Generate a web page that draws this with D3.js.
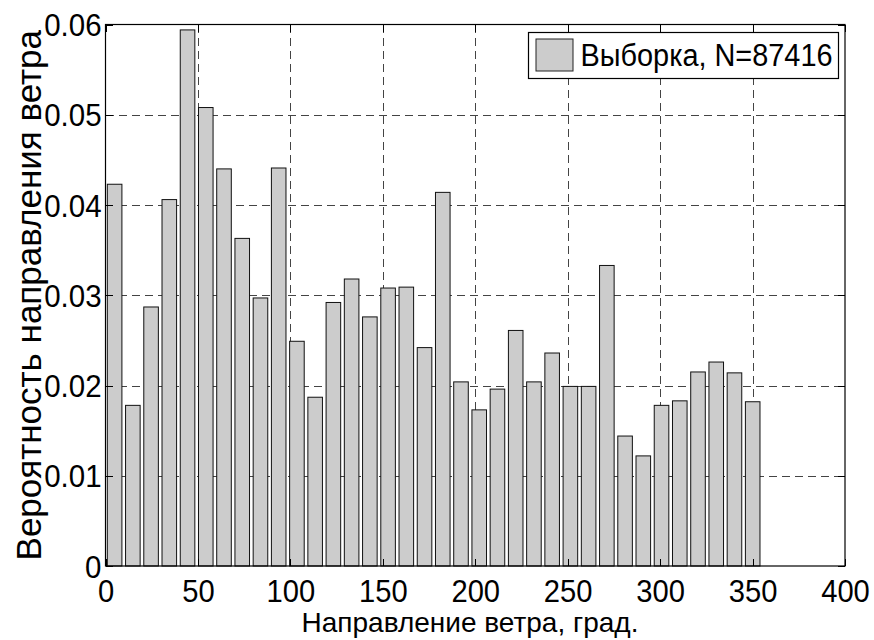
<!DOCTYPE html>
<html>
<head>
<meta charset="utf-8">
<script src="https://cdn.jsdelivr.net/npm/d3@7"></script>
<style>
  html, body { margin: 0; padding: 0; background: #fff; }
  svg { display: block; font-family: "Liberation Sans", Arial, Helvetica, sans-serif; }
</style>
</head>
<body>
<svg id="chart" width="874" height="640"></svg>
<script>
// Histogram of wind direction: bin centres (degrees) and relative frequency
const binCenters = [4.93, 14.79, 24.65, 34.51, 44.38, 54.24, 64.10, 73.96, 83.82, 93.68,
  103.54, 113.40, 123.26, 133.13, 142.99, 152.85, 162.71, 172.57, 182.43, 192.29,
  202.15, 212.01, 221.88, 231.74, 241.60, 251.46, 261.32, 271.18, 281.04, 290.90,
  300.76, 310.63, 320.49, 330.35, 340.21, 350.07];
const probabilities = [0.0423, 0.0178, 0.0287, 0.0406, 0.0594, 0.0508, 0.0440, 0.0363, 0.0297, 0.0441,
  0.0249, 0.0187, 0.0292, 0.0318, 0.0276, 0.0308, 0.0309, 0.0242, 0.0414, 0.0204,
  0.0173, 0.0196, 0.0261, 0.0204, 0.0236, 0.0199, 0.0199, 0.0333, 0.0144, 0.0122,
  0.0178, 0.0183, 0.0215, 0.0226, 0.0214, 0.0182];
const binWidth = 9.861;
const xTicks = [0, 50, 100, 150, 200, 250, 300, 350, 400];
const yTicks = [0, 0.01, 0.02, 0.03, 0.04, 0.05, 0.06];
const xLabel = "Направление ветра, град.";
const yLabel = "Вероятность направления ветра";
const legendLabel = "Выборка, N=87416";

const svg = d3.select("#chart");
const plotL = 105.5, plotR = 845, plotT = 24.5, plotB = 566;

const x = d3.scaleLinear().domain([0, 400]).range([plotL, plotR]);
const y = d3.scaleLinear().domain([0, 0.06]).range([plotB, plotT]);

// slightly condensed glyphs for the numeric labels
function condense(sel, factor) {
  sel.each(function () {
    const w = this.getComputedTextLength();
    d3.select(this).attr("textLength", w * factor).attr("lengthAdjust", "spacingAndGlyphs");
  });
}

// dashed grid behind the bars
const grid = svg.append("g").attr("stroke", "#444").attr("stroke-width", 1)
  .attr("stroke-dasharray", "8,5").attr("shape-rendering", "crispEdges");
grid.selectAll("line.gx").data(xTicks.slice(1, -1)).join("line")
  .attr("x1", d => Math.round(x(d)) + 0.5).attr("x2", d => Math.round(x(d)) + 0.5)
  .attr("y1", plotT).attr("y2", plotB);
grid.selectAll("line.gy").data(yTicks.slice(1, -1)).join("line")
  .attr("y1", d => Math.round(y(d)) + 0.5).attr("y2", d => Math.round(y(d)) + 0.5)
  .attr("x1", plotL).attr("x2", plotR);

// bars
const data = binCenters.map((c, i) => ({ c, p: probabilities[i] }));
const barW = x(binWidth * 0.8) - x(0);
svg.append("g").selectAll("rect").data(data).join("rect")
  .attr("x", d => x(d.c) - barW / 2)
  .attr("y", d => y(d.p))
  .attr("width", barW)
  .attr("height", d => y(0) - y(d.p))
  .attr("fill", "#cccccc")
  .attr("stroke", "#111")
  .attr("stroke-width", 1);

// axes (ticks point inward, mirrored on top/right)
const tickLen = 7;
const axisFont = "31px";
const xAxis = svg.append("g").attr("transform", `translate(0,${plotB})`)
  .call(d3.axisBottom(x).tickValues(xTicks).tickSize(-tickLen).tickPadding(tickLen + 7).tickFormat(d3.format("d")));
const yAxis = svg.append("g").attr("transform", `translate(${plotL},0)`)
  .call(d3.axisLeft(y).tickValues(yTicks).tickSize(-tickLen).tickPadding(4)
    .tickFormat(d => d === 0 ? "0" : d3.format(".2f")(d)));
svg.append("g").attr("transform", `translate(0,${plotT})`)
  .call(d3.axisTop(x).tickValues(xTicks).tickSize(-tickLen).tickFormat(""));
svg.append("g").attr("transform", `translate(${plotR},0)`)
  .call(d3.axisRight(y).tickValues(yTicks).tickSize(-tickLen).tickFormat(""));

svg.selectAll(".domain").remove();
svg.selectAll(".tick line").attr("stroke", "#000").attr("shape-rendering", "crispEdges");
[xAxis, yAxis].forEach(a => a.selectAll("text")
  .attr("font-size", axisFont).attr("fill", "#000")
  .attr("font-family", "'Liberation Sans', Arial, sans-serif"));
yAxis.selectAll("text").attr("dy", "0.36em");
xAxis.selectAll("text").attr("dy", "0.7em");
condense(xAxis.selectAll("text"), 0.94);
condense(yAxis.selectAll("text"), 0.95);

// frame
svg.append("rect").attr("x", plotL).attr("y", plotT)
  .attr("width", plotR - plotL).attr("height", plotB - plotT)
  .attr("fill", "none").attr("stroke", "#000").attr("stroke-width", 1.2);

// axis titles
svg.append("text").attr("x", 470).attr("y", 632)
  .attr("text-anchor", "middle").attr("font-size", "28px").attr("fill", "#000")
  .text(xLabel);
svg.append("text")
  .attr("transform", `translate(41,${(plotT + plotB) / 2}) rotate(-90)`)
  .attr("text-anchor", "middle").attr("font-size", "35px").attr("fill", "#000")
  .text(yLabel);

// legend
const lg = svg.append("g");
lg.append("rect").attr("x", 528.5).attr("y", 32.5).attr("width", 310).attr("height", 46)
  .attr("fill", "#fff").attr("stroke", "#000").attr("stroke-width", 1.2);
lg.append("rect").attr("x", 536).attr("y", 39).attr("width", 37).attr("height", 32)
  .attr("fill", "#cccccc").attr("stroke", "#222").attr("stroke-width", 1);
lg.append("text").attr("x", 580.5).attr("y", 65.5)
  .attr("font-size", "31px").attr("fill", "#000")
  .attr("textLength", 252).attr("lengthAdjust", "spacingAndGlyphs")
  .text(legendLabel);
</script>
</body>
</html>
